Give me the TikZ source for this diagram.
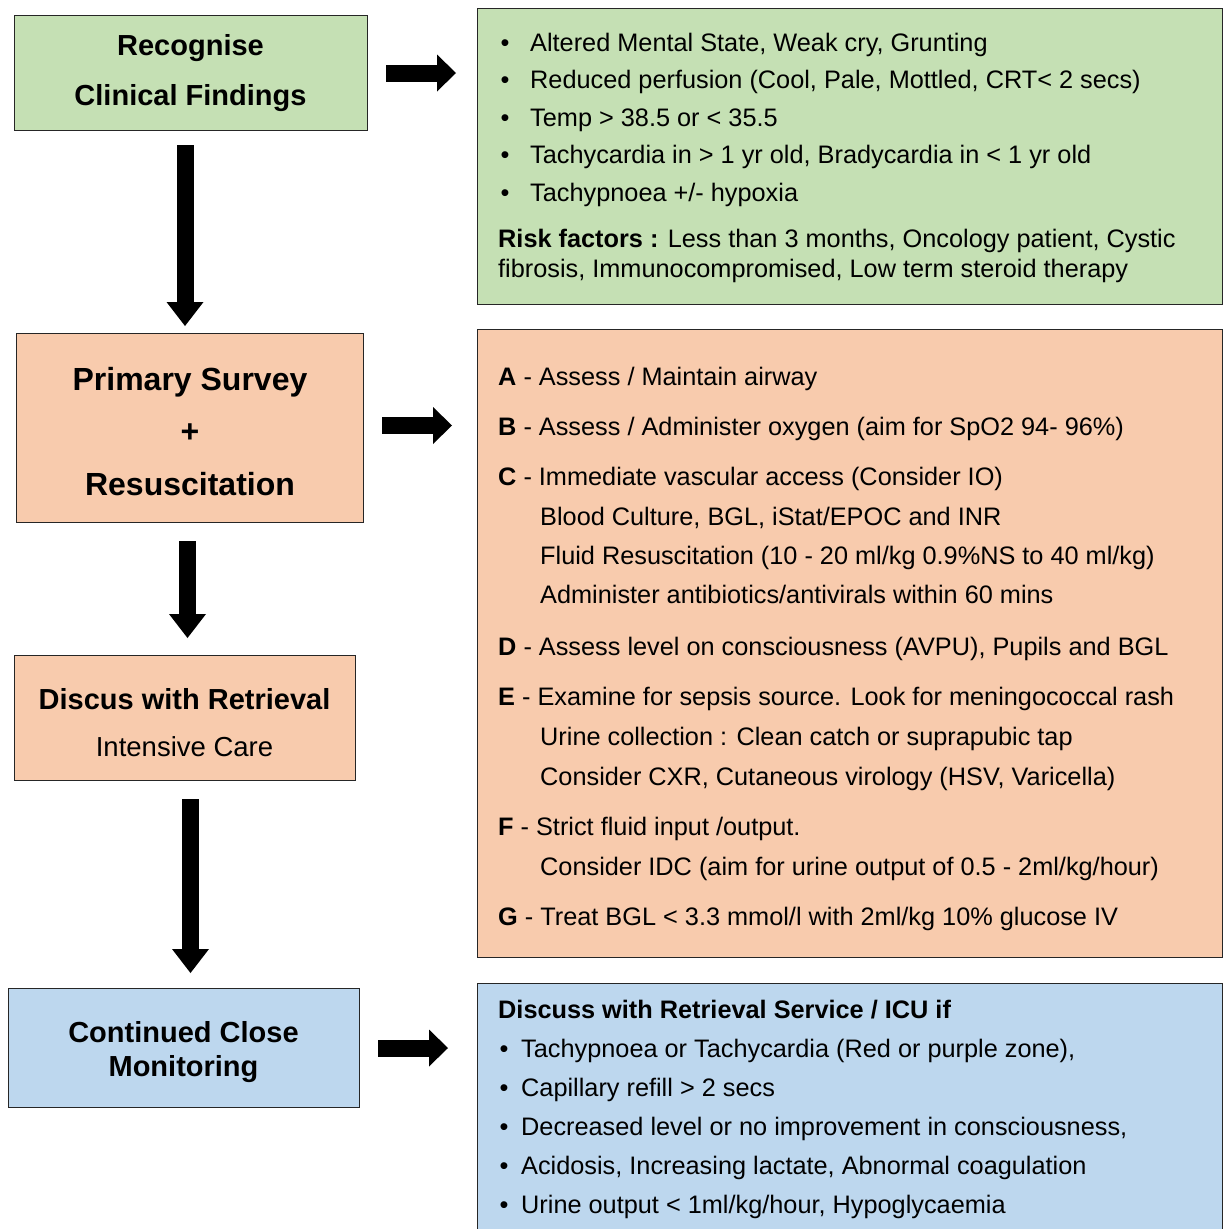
\documentclass[tikz,border=0pt]{standalone}
\usepackage{fontspec}
\setmainfont{Liberation Sans}
\usetikzlibrary{arrows.meta}
\definecolor{kgreen}{HTML}{C5E0B4}
\definecolor{korange}{HTML}{F8CBAD}
\definecolor{kblue}{HTML}{BDD7EE}
\tikzset{
  kbox/.style={draw=black!85,line width=1pt,inner sep=0pt,anchor=north west},
  ktxt/.style={inner sep=0pt,anchor=base west,font=\fontsize{25.3}{30}\selectfont},
  ktitle/.style={inner sep=0pt,anchor=base,font=\bfseries\fontsize{29}{34}\selectfont},
  kbig/.style={line width=17pt,-{Triangle[length=#1,width=37pt,line width=0pt]}},
  kbig/.default=20pt
}
\begin{document}
\begin{tikzpicture}[x=1pt,y=-1pt]
\useasboundingbox (0,0) rectangle (1229,1229);
\clip (0,0) rectangle (1229,1229);
\node[kbox,fill=kgreen,minimum width=353pt,minimum height=115pt](rec) at (14,15){};
\node[kbox,fill=korange,minimum width=347pt,minimum height=189pt](prim) at (16,333){};
\node[kbox,fill=korange,minimum width=341pt,minimum height=125pt](disc) at (14,655){};
\node[kbox,fill=kblue,minimum width=351pt,minimum height=119pt](mon) at (8,988){};
\node[kbox,fill=kgreen,minimum width=745pt,minimum height=296pt](grn) at (477,8){};
\node[kbox,fill=korange,minimum width=745pt,minimum height=628pt](org) at (477,329){};
\node[kbox,fill=kblue,minimum width=745pt,minimum height=270pt](blu) at (477,983){};
\node[ktitle](rec1) at (190.5,55){Recognise};
\node[ktitle](rec2) at (190.5,105){Clinical Findings};
\node[ktitle,font=\bfseries\fontsize{32}{36}\selectfont](prim1) at (190,390){Primary Survey};
\node[ktitle,font=\bfseries\fontsize{32}{36}\selectfont](prim2) at (190,442){+};
\node[ktitle,font=\bfseries\fontsize{32}{36}\selectfont](prim3) at (190,495){Resuscitation};
\node[ktitle](disc1) at (184.5,709){Discus with Retrieval};
\node[ktitle,font=\fontsize{27.5}{32}\selectfont](disc2) at (184.5,756){Intensive Care};
\node[ktitle](mon1) at (183.5,1042){Continued Close};
\node[ktitle](mon2) at (183.5,1076){Monitoring};
\draw[kbig=24pt,shorten <=14pt,shorten >=7pt]([xshift=-6pt]rec.south)--([xshift=-6pt]rec.south |- prim.north);
\draw[kbig=24pt,shorten <=18pt,shorten >=17pt]([xshift=-2.5pt]prim.south)--([xshift=-2.5pt]prim.south |- disc.north);
\draw[kbig=24pt,shorten <=18pt,shorten >=15pt]([xshift=5.5pt]disc.south)--([xshift=5.5pt]disc.south |- mon.north);
\draw[kbig=19pt,shorten <=18pt,shorten >=21pt](rec.east)--(rec.east -| grn.west);
\draw[kbig=19pt,shorten <=18pt,shorten >=25pt]([yshift=2.5pt]prim.east)--([yshift=2.5pt]prim.east -| org.west);
\draw[kbig=19pt,shorten <=18pt,shorten >=29pt](mon.east)--(mon.east -| blu.west);
\foreach \ky/\txt [count=\i] in {51/{Altered Mental State, Weak cry, Grunting},88.5/{Reduced perfusion (Cool, Pale, Mottled, CRT< 2 secs)},126/{Temp > 38.5 or < 35.5},163.5/{Tachycardia in > 1 yr old, Bradycardia in < 1 yr old},201/{Tachypnoea +/- hypoxia}}{
  \node[ktxt,anchor=base](gb\i) at (505,\ky){\textbullet};
  \node[ktxt](g\i) at (530,\ky){\txt};
}
\node[ktxt](risk1) at (498,247){\textbf{Risk factors :} Less than 3 months, Oncology patient, Cystic};
\node[ktxt](risk2) at (498,277){fibrosis, Immunocompromised, Low term steroid therapy};
\foreach \kx/\ky/\txt [count=\i] in {498/385/{\textbf{A} - Assess / Maintain airway},498/435/{\textbf{B} - Assess / Administer oxygen (aim for SpO2 94- 96\%)},498/485/{\textbf{C} - Immediate vascular access (Consider IO)},540/525/{Blood Culture, BGL, iStat/EPOC and INR},540/564/{Fluid Resuscitation (10 - 20 ml/kg 0.9\%NS to 40 ml/kg)},540/603/{Administer antibiotics/antivirals within 60 mins},498/655/{\textbf{D} - Assess level on consciousness (AVPU), Pupils and BGL},498/705/{\textbf{E} - Examine for sepsis source. Look for meningococcal rash},540/745/{Urine collection : Clean catch or suprapubic tap},540/785/{Consider CXR, Cutaneous virology (HSV, Varicella)},498/835/{\textbf{F} - Strict fluid input /output.},540/875/{Consider IDC (aim for urine output of 0.5 - 2ml/kg/hour)},498/925/{\textbf{G} - Treat BGL < 3.3 mmol/l with 2ml/kg 10\% glucose IV}}{
  \node[ktxt](o\i) at (\kx,\ky){\txt};
}
\node[ktxt,font=\bfseries\fontsize{25.3}{30}\selectfont](bhead) at (498,1018){Discuss with Retrieval Service / ICU if};
\foreach \ky/\txt [count=\i] in {1057/{Tachypnoea or Tachycardia (Red or purple zone),},1096/{Capillary refill > 2 secs},1135/{Decreased level or no improvement in consciousness,},1174/{Acidosis, Increasing lactate, Abnormal coagulation},1213/{Urine output < 1ml/kg/hour, Hypoglycaemia}}{
  \node[ktxt,anchor=base](bb\i) at (504,\ky){\textbullet};
  \node[ktxt](b\i) at (521,\ky){\txt};
}
\end{tikzpicture}
\end{document}
